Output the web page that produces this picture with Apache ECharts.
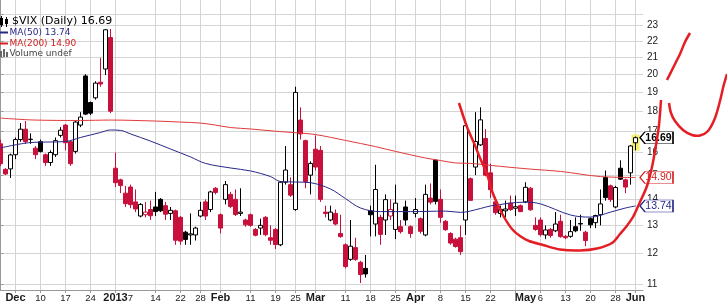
<!DOCTYPE html>
<html>
<head>
<meta charset="utf-8">
<title>$VIX (Daily)</title>
<script src="https://cdn.jsdelivr.net/npm/echarts@6.0.0/dist/echarts.min.js"></script>
<style>
  html, body { margin: 0; padding: 0; background: #ffffff; }
  #chart { width: 727px; height: 304px; }
</style>
</head>
<body>
<div id="chart"></div>
<script>
// trading days on the chart
var dates = [
  '2012-11-28','2012-11-29','2012-11-30',
  '2012-12-03','2012-12-04','2012-12-05','2012-12-06','2012-12-07',
  '2012-12-10','2012-12-11','2012-12-12','2012-12-13','2012-12-14',
  '2012-12-17','2012-12-18','2012-12-19','2012-12-20','2012-12-21',
  '2012-12-24','2012-12-26','2012-12-27','2012-12-28','2012-12-31',
  '2013-01-02','2013-01-03','2013-01-04',
  '2013-01-07','2013-01-08','2013-01-09','2013-01-10','2013-01-11',
  '2013-01-14','2013-01-15','2013-01-16','2013-01-17','2013-01-18',
  '2013-01-22','2013-01-23','2013-01-24','2013-01-25',
  '2013-01-28','2013-01-29','2013-01-30','2013-01-31','2013-02-01',
  '2013-02-04','2013-02-05','2013-02-06','2013-02-07','2013-02-08',
  '2013-02-11','2013-02-12','2013-02-13','2013-02-14','2013-02-15',
  '2013-02-19','2013-02-20','2013-02-21','2013-02-22',
  '2013-02-25','2013-02-26','2013-02-27','2013-02-28','2013-03-01',
  '2013-03-04','2013-03-05','2013-03-06','2013-03-07','2013-03-08',
  '2013-03-11','2013-03-12','2013-03-13','2013-03-14','2013-03-15',
  '2013-03-18','2013-03-19','2013-03-20','2013-03-21','2013-03-22',
  '2013-03-25','2013-03-26','2013-03-27','2013-03-28',
  '2013-04-01','2013-04-02','2013-04-03','2013-04-04','2013-04-05',
  '2013-04-08','2013-04-09','2013-04-10','2013-04-11','2013-04-12',
  '2013-04-15','2013-04-16','2013-04-17','2013-04-18','2013-04-19',
  '2013-04-22','2013-04-23','2013-04-24','2013-04-25','2013-04-26',
  '2013-04-29','2013-04-30','2013-05-01','2013-05-02','2013-05-03',
  '2013-05-06','2013-05-07','2013-05-08','2013-05-09','2013-05-10',
  '2013-05-13','2013-05-14','2013-05-15','2013-05-16','2013-05-17',
  '2013-05-20','2013-05-21','2013-05-22','2013-05-23','2013-05-24',
  '2013-05-28','2013-05-29','2013-05-30','2013-05-31',
  '2013-06-03'
];

var opens = [
  16.4, 15.25, 15.27,
  15.9, 16.6, 17.1, 16.6, 16.2,
  16.5, 15.9, 15.55, 15.9, 16.8,
  17.3, 16.5, 16.05, 17.3, 19.9,
  18.45, 18.7, 19.55, 20.3, 22.2,
  15.3, 14.8, 14.25,
  14.5, 13.9, 13.35, 13.4, 13.6,
  13.7, 14.0, 13.75, 13.45, 13.55,
  13.3, 12.75, 12.65, 12.65,
  13.35, 13.9, 13.6, 14.45, 13.4,
  14.0, 14.2, 14.0, 13.45, 13.2,
  13.4, 12.85, 12.9, 13.3, 12.55,
  12.85, 12.3, 14.7, 14.6,
  13.6, 17.55, 16.55, 15.0, 16.15,
  16.1, 13.5, 13.2, 13.45, 12.7,
  12.3, 11.8, 12.2, 11.7, 11.5,
  13.55, 13.05, 13.3, 13.2, 13.35,
  12.85, 12.95, 13.7, 12.95,
  13.45, 13.25, 12.65, 14.05, 15.65,
  14.0, 13.15, 12.7, 12.5, 12.55,
  13.2, 14.85, 15.35, 16.35, 16.65,
  15.1, 13.9, 13.45, 13.55, 13.85,
  13.65, 13.75, 13.9, 14.45, 13.0,
  13.2, 12.65, 12.85, 12.8, 13.15,
  12.6, 12.6, 12.95, 13.05, 12.75,
  13.25, 13.1, 13.4, 14.9, 14.55,
  13.7, 15.3, 14.8, 15.1,
  16.45
];

var highs = [
  16.6, 15.3, 15.95,
  16.7, 17.4, 17.5, 16.9, 16.3,
  16.6, 15.95, 16.1, 16.7, 17.2,
  17.35, 16.55, 17.55, 17.95, 20.0,
  18.5, 19.6, 20.95, 22.75, 22.75,
  16.0, 14.85, 14.55,
  14.6, 14.4, 13.85, 13.9, 13.95,
  14.3, 14.05, 13.9, 13.7, 13.6,
  13.35, 12.8, 13.45, 12.95,
  13.9, 14.0, 14.35, 14.5, 13.45,
  14.75, 14.3, 14.4, 14.45, 13.25,
  13.45, 12.9, 13.25, 13.35, 13.0,
  12.9, 14.75, 16.3, 14.9,
  19.3, 18.2, 16.6, 15.6, 16.8,
  16.3, 13.75, 13.75, 13.6, 13.4,
  12.35, 13.2, 12.55, 11.75, 11.95,
  13.75, 15.45, 13.4, 14.2, 14.0,
  14.6, 13.2, 13.95, 13.0,
  14.05, 13.3, 14.6, 14.65, 15.7,
  14.4, 13.2, 12.75, 12.55, 13.0,
  17.3, 14.9, 17.95, 18.2, 17.1,
  15.5, 14.1, 13.75, 13.95, 14.15,
  14.15, 13.8, 14.7, 14.5, 13.3,
  13.3, 13.0, 12.9, 13.5, 13.4,
  12.65, 13.2, 13.3, 13.4, 12.8,
  13.3, 13.4, 14.4, 15.2, 14.6,
  14.55, 15.65, 14.85, 16.35,
  16.75
];

var lows = [
  15.4, 15.0, 14.88,
  15.7, 16.5, 16.4, 16.4, 15.7,
  16.0, 15.4, 15.4, 15.8, 16.7,
  16.1, 15.4, 15.95, 17.2, 17.8,
  17.8, 18.6, 19.3, 19.95, 17.9,
  14.5, 14.25, 13.7,
  13.65, 13.5, 13.3, 13.3, 13.2,
  13.35, 13.5, 13.2, 13.2, 12.3,
  12.3, 12.3, 12.3, 12.45,
  13.3, 13.2, 13.5, 14.2, 12.7,
  13.8, 13.65, 13.35, 13.35, 12.95,
  12.95, 12.6, 12.65, 12.6, 12.3,
  12.15, 12.25, 14.6, 14.1,
  13.55, 16.6, 14.45, 14.2, 15.2,
  13.9, 13.3, 13.15, 13.0, 12.55,
  11.5, 11.75, 11.75, 11.03, 11.2,
  12.6, 12.6, 12.3, 12.65, 13.2,
  12.5, 12.7, 13.0, 12.55,
  13.3, 12.7, 12.6, 13.8, 13.8,
  13.1, 12.8, 12.3, 12.2, 11.95,
  12.65, 13.95, 15.0, 16.3, 14.95,
  14.05, 13.4, 13.3, 13.3, 13.55,
  13.35, 13.5, 13.85, 13.55, 12.8,
  12.6, 12.5, 12.55, 12.75, 12.55,
  12.5, 12.55, 12.75, 12.8, 12.25,
  12.9, 12.9, 13.0, 13.95, 13.9,
  13.65, 14.8, 14.25, 14.6,
  16.1
];

var closes = [
  15.5, 15.05, 15.89,
  16.6, 17.1, 16.5, 16.62, 15.9,
  16.05, 15.55, 16.0, 16.55, 17.05,
  16.45, 15.5, 17.45, 17.7, 17.85,
  17.9, 19.5, 19.45, 22.7, 18.0,
  14.68, 14.56, 13.83,
  13.79, 13.62, 13.8, 13.5, 13.36,
  13.52, 13.55, 13.42, 13.57, 12.46,
  12.43, 12.49, 12.69, 12.9,
  13.57, 13.35, 14.3, 14.28, 12.9,
  14.6, 13.72, 13.41, 13.5, 13.02,
  13.0, 12.64, 13.0, 12.66, 12.46,
  12.31, 14.7, 15.22, 14.17,
  18.99, 16.87, 14.73, 15.51, 15.35,
  14.0, 13.45, 13.5, 13.05, 12.59,
  11.56, 12.25, 11.8, 11.3, 11.32,
  13.4, 14.4, 12.67, 13.99, 13.6,
  13.85, 12.77, 13.2, 12.7,
  13.6, 12.78, 14.2, 13.89, 13.92,
  13.3, 12.84, 12.36, 12.24, 12.06,
  17.27, 13.96, 16.51, 17.56, 15.0,
  14.39, 13.48, 13.61, 13.62, 13.6,
  13.71, 13.52, 14.49, 13.59, 12.85,
  12.66, 12.83, 12.63, 13.05, 12.59,
  12.55, 12.77, 12.8, 13.07, 12.45,
  13.02, 13.37, 13.82, 14.07, 13.99,
  14.48, 14.83, 14.5, 16.3,
  16.69
];

// moving averages
var ma50Dates = ['2012-11-28','2012-12-06','2012-12-17','2012-12-20','2012-12-27','2012-12-31',
  '2013-01-03','2013-01-07','2013-01-11','2013-01-17','2013-01-24','2013-01-29','2013-02-05',
  '2013-02-11','2013-02-15','2013-02-20','2013-02-25','2013-02-28','2013-03-06','2013-03-11',
  '2013-03-14','2013-03-20','2013-03-28','2013-04-09','2013-04-12','2013-04-18','2013-04-22',
  '2013-05-01','2013-05-06','2013-05-14','2013-05-20','2013-05-24','2013-05-30','2013-06-03'];
var ma50Values = [16.21, 16.46, 16.51, 16.70, 16.94, 17.06,
  17.04, 16.87, 16.53, 16.16, 15.80, 15.51, 15.31,
  15.18, 14.94, 14.73, 14.71, 14.68, 14.42, 14.03,
  13.66, 13.52, 13.52, 13.54, 13.49, 13.64, 13.74,
  13.89, 13.82, 13.39, 13.31, 13.50, 13.66, 13.74];

var ma200Dates = ['2012-11-28','2012-12-07','2012-12-20','2012-12-31','2013-01-14','2013-01-22',
  '2013-01-28','2013-01-31','2013-02-05','2013-02-11','2013-02-19','2013-02-26','2013-03-01',
  '2013-03-11','2013-03-19','2013-03-25','2013-04-03','2013-04-08','2013-04-11','2013-04-16',
  '2013-04-24','2013-05-02','2013-05-10','2013-05-22','2013-06-03'];
var ma200Values = [17.65, 17.55, 17.53, 17.55, 17.50, 17.45,
  17.40, 17.30, 17.18, 17.11, 17.00, 16.91, 16.84,
  16.56, 16.27, 16.05, 15.75, 15.64, 15.53, 15.51,
  15.38, 15.26, 15.16, 14.94, 14.90];

// x axis labels and vertical grid lines
var tickDates = ['2012-12-03','2012-12-10','2012-12-17','2012-12-24','2013-01-02','2013-01-07',
  '2013-01-14','2013-01-22','2013-01-28','2013-02-01','2013-02-11','2013-02-19','2013-02-25',
  '2013-03-01','2013-03-11','2013-03-18','2013-03-25','2013-04-01','2013-04-08','2013-04-15',
  '2013-04-22','2013-05-01','2013-05-06','2013-05-13','2013-05-20','2013-05-28','2013-06-03'];
var tickTexts = ['Dec','10','17','24','2013','7','14','22','28','Feb','11','19','25',
  'Mar','11','18','25','Apr','8','15','22','May','6','13','20','28','Jun'];
var gridDates = ['2012-12-03','2012-12-10','2012-12-17','2012-12-24','2013-01-02',
  '2013-01-14','2013-01-22','2013-01-28','2013-02-01','2013-02-11','2013-02-19','2013-02-25',
  '2013-03-01','2013-03-11','2013-03-18','2013-03-25','2013-04-01','2013-04-08','2013-04-15',
  '2013-04-22','2013-04-29','2013-05-06','2013-05-13','2013-05-20','2013-05-28','2013-06-03'];

// price axis (log scale)
var yTicks = [11, 12, 13, 14, 15, 16, 17, 18, 19, 20, 21, 22, 23];
var yBottom = 10.813, yTop = 24.71, panelTopValue = 23.74;
var highlightRange = [16.08, 16.84];

var RED = '#c8103c', INK = '#000000', NAVY = '#27278a', MARED = '#e03a3a', PEN = '#e41e24';
var LN = Math.log;
var last = closes.length - 1;

function candleStyle(i) {
    var prev = i > 0 ? closes[i - 1] : opens[i];
    var ink = closes[i] < prev ? RED : INK;
    var fill = closes[i] >= opens[i] ? '#ffffff' : ink;
    return { color: fill, color0: fill, borderColor: ink, borderColor0: ink, borderColorDoji: ink };
}

var candleData = opens.map(function (o, i) {
    return { value: [i, LN(o), LN(closes[i]), LN(lows[i]), LN(highs[i])], itemStyle: candleStyle(i) };
});

function maData(ds, vs) {
    return ds.map(function (d, k) { return [dates.indexOf(d), LN(vs[k])]; });
}

var labelIdx = tickDates.map(function (d) { return dates.indexOf(d); });
var gridIdx = gridDates.map(function (d) { return dates.indexOf(d); });

function priceTag(value, color, bold) {
    return {
        symbol: 'path://M0,6L5,0L33,0L33,12L5,12Z',
        symbolSize: [33, 12],
        symbolKeepAspect: false,
        symbolOffset: [21, 0],
        data: [{ coord: [last, LN(value)], value: value }],
        itemStyle: { color: '#ffffff', borderColor: color, borderWidth: 1 },
        label: {
            show: true, position: 'inside', offset: [2, 0],
            formatter: function () { return value.toFixed(2); },
            color: color, fontSize: 10.5, fontFamily: 'Liberation Sans',
            fontWeight: bold ? 'bold' : 'normal'
        },
        silent: true
    };
}

var penA = [[459,103],[467,127],[474,143],[480,158],[487,174],[492,191],[497,203],[504,217],[512,229],
  [520,236],[529,241],[543,245],[560,249.5],[580,250.5],[597,248.5],[612,243],[620,234],[626,227],
  [633,217],[640,202],[647,186],[652,167],[656,145],[659,125],[661,100]];
var penB = [[667,80],[672,70],[676,62],[680,54],[685,42],[690,33]];
var penC = [[669,103],[671,113],[675,121],[683,130],[692,135],[700,135.5],[708,131],[715,118],
  [720,101],[723.5,86],[727,74]];

var legendFont = 'DejaVu Sans';

var option = {
    backgroundColor: '#ffffff',
    animation: false,
    grid: { left: 0, width: 643, top: 0, bottom: 14, containLabel: false, outerBoundsMode: 'none' },
    xAxis: {
        type: 'value', min: -0.1, max: 128.5,
        axisLine: { show: true, onZero: false, lineStyle: { color: '#999999' } },
        axisTick: { show: true, customValues: gridIdx, length: 3, lineStyle: { color: '#999999' } },
        axisLabel: {
            customValues: labelIdx, margin: 2,
            formatter: function (v) {
                var k = labelIdx.indexOf(Math.round(v));
                if (k < 0) return '';
                var t = tickTexts[k];
                return /^[0-9]{1,2}$/.test(t) ? '{d|' + t + '}' : '{m|' + t + '}';
            },
            rich: {
                m: { fontFamily: 'Liberation Sans', fontWeight: 'bold', fontSize: 11, color: '#1a1a1a', lineHeight: 12 },
                d: { fontFamily: 'Liberation Sans', fontSize: 9.5, color: '#1a1a1a', lineHeight: 12 }
            }
        },
        splitLine: { show: true, lineStyle: { color: '#d4d4d4', width: 1 } }
    },
    yAxis: {
        type: 'value', position: 'right', min: LN(yBottom), max: LN(yTop),
        axisLine: { show: true, lineStyle: { color: '#999999' } },
        axisTick: { show: true, customValues: yTicks.map(LN).concat([LN(panelTopValue)]), length: 3, inside: false,
            lineStyle: { color: '#999999' } },
        axisLabel: {
            customValues: yTicks.map(LN), margin: 4,
            formatter: function (v) { return String(Math.round(Math.exp(v))); },
            fontFamily: 'Liberation Sans', fontSize: 10, color: '#1a1a1a'
        },
        splitLine: { show: true, lineStyle: { color: '#d4d4d4', width: 1 } }
    },
    series: [
        {
            name: 'highlight', type: 'candlestick', silent: true, z: 1, barWidth: 8,
            data: [[last, LN(highlightRange[0]), LN(highlightRange[1]), LN(highlightRange[0]), LN(highlightRange[1])]],
            itemStyle: { color: '#f4ee72', color0: '#f4ee72', borderColor: '#f4ee72', borderColor0: '#f4ee72', borderWidth: 0 }
        },
        {
            name: '$VIX', type: 'candlestick', z: 2, barWidth: 4, clip: false,
            data: candleData,
            itemStyle: { borderWidth: 1 },
            markPoint: priceTag(closes[last], INK, true)
        },
        {
            name: 'MA(200)', type: 'line', z: 3, showSymbol: false, smooth: 0.35, clip: false,
            data: maData(ma200Dates, ma200Values),
            lineStyle: { color: MARED, width: 1 },
            markPoint: priceTag(ma200Values[ma200Values.length - 1], '#d42020', false)
        },
        {
            name: 'MA(50)', type: 'line', z: 4, showSymbol: false, smooth: 0.35, clip: false,
            data: maData(ma50Dates, ma50Values),
            lineStyle: { color: NAVY, width: 1 },
            markPoint: priceTag(ma50Values[ma50Values.length - 1], NAVY, false)
        }
    ],
    graphic: [
        // legend block
        { type: 'line', shape: { x1: 1.5, y1: 16, x2: 1.5, y2: 27 }, style: { stroke: INK, lineWidth: 1 }, z: 50 },
        { type: 'rect', shape: { x: 0, y: 18, width: 3, height: 7 }, style: { fill: INK }, z: 50 },
        { type: 'line', shape: { x1: 6.5, y1: 17, x2: 6.5, y2: 27 }, style: { stroke: INK, lineWidth: 1 }, z: 50 },
        { type: 'rect', shape: { x: 5, y: 19, width: 3, height: 5 }, style: { fill: INK }, z: 50 },
        { type: 'text', x: 12, y: 21.5, z: 50, style: { text: '$VIX (Daily) ' + closes[last].toFixed(2),
            fontFamily: legendFont, fontSize: 11, fill: INK, verticalAlign: 'middle', align: 'left' } },
        { type: 'line', shape: { x1: 0, y1: 32.5, x2: 8, y2: 32.5 }, style: { stroke: NAVY, lineWidth: 2 }, z: 50 },
        { type: 'text', x: 9.5, y: 32.7, z: 50, style: { text: 'MA(50) ' + ma50Values[ma50Values.length - 1].toFixed(2),
            fontFamily: legendFont, fontSize: 9, fill: NAVY, verticalAlign: 'middle', align: 'left' } },
        { type: 'line', shape: { x1: 0, y1: 43.5, x2: 8, y2: 43.5 }, style: { stroke: '#d42020', lineWidth: 2 }, z: 50 },
        { type: 'text', x: 9.5, y: 43.3, z: 50, style: { text: 'MA(200) ' + ma200Values[ma200Values.length - 1].toFixed(2),
            fontFamily: legendFont, fontSize: 9, fill: '#d42020', verticalAlign: 'middle', align: 'left' } },
        { type: 'rect', shape: { x: 0, y: 51, width: 2, height: 6 }, style: { fill: '#666666' }, z: 50 },
        { type: 'rect', shape: { x: 3, y: 49, width: 2, height: 8 }, style: { fill: '#666666' }, z: 50 },
        { type: 'rect', shape: { x: 6, y: 52, width: 2, height: 5 }, style: { fill: '#666666' }, z: 50 },
        { type: 'text', x: 9.5, y: 53.5, z: 50, style: { text: 'Volume undef',
            fontFamily: legendFont, fontSize: 9, fill: '#444444', verticalAlign: 'middle', align: 'left' } },
        // hand-drawn red marks
        { type: 'polyline', z: 100, shape: { points: penA, smooth: 0.3 }, style: { stroke: PEN, lineWidth: 2.5, fill: null } },
        { type: 'polyline', z: 100, shape: { points: penB, smooth: 0.3 }, style: { stroke: PEN, lineWidth: 2.5, fill: null } },
        { type: 'polyline', z: 100, shape: { points: penC, smooth: 0.3 }, style: { stroke: PEN, lineWidth: 2.5, fill: null } }
    ]
};

var chart = echarts.init(document.getElementById('chart'));
chart.setOption(option);
</script>
</body>
</html>
